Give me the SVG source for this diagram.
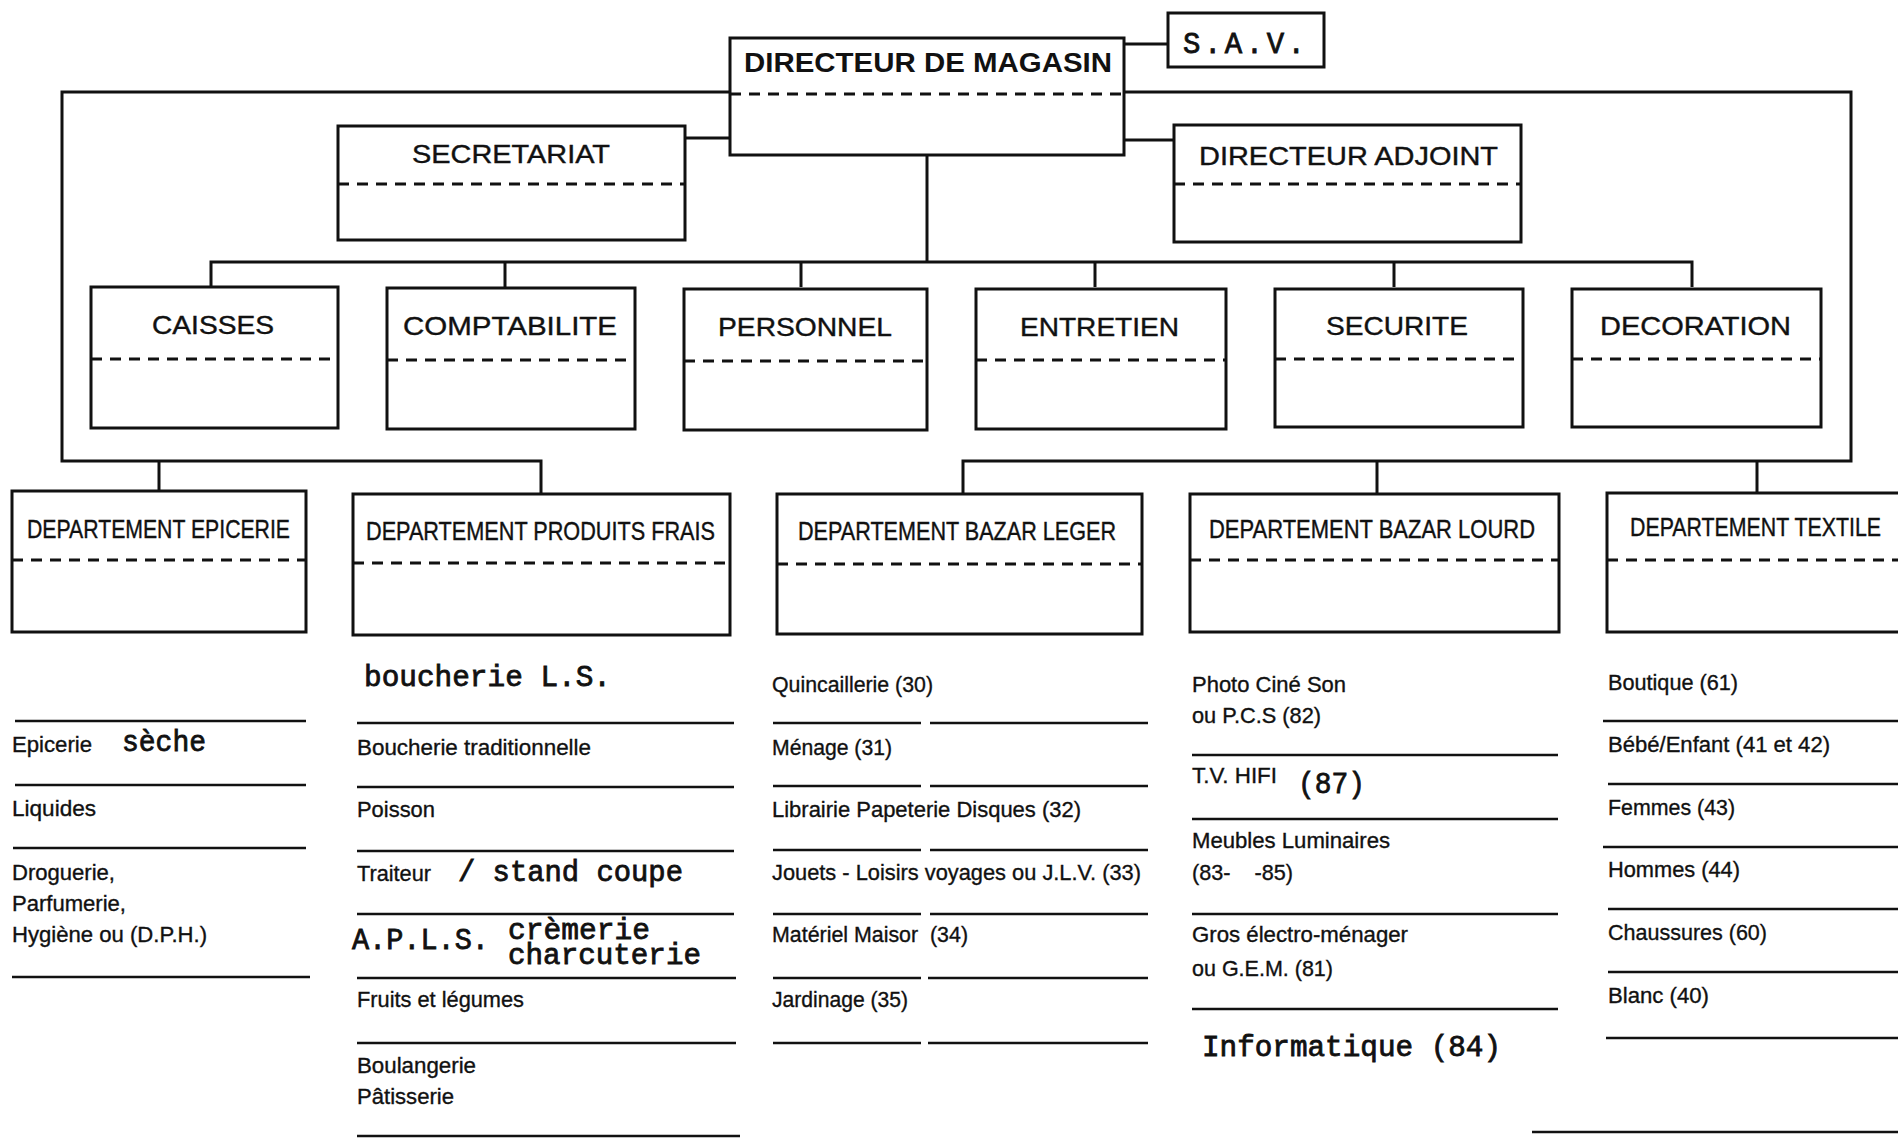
<svg xmlns="http://www.w3.org/2000/svg" width="1898" height="1138" viewBox="0 0 1898 1138">
<style>
.box{fill:#fff;stroke:#111;stroke-width:3}
.dash{stroke:#111;stroke-width:3.2;stroke-dasharray:11 8;fill:none}
.con{stroke:#111;stroke-width:3;fill:none}
.sep{stroke:#111;stroke-width:2.6;fill:none}
.t{font-family:"Liberation Sans",Arial,sans-serif;font-size:26px;fill:#111;stroke:#111;stroke-width:0.4}
.tb{font-family:"Liberation Sans",Arial,sans-serif;font-size:27px;font-weight:bold;fill:#111}
.d{font-family:"Liberation Sans",Arial,sans-serif;font-size:26px;fill:#111;stroke:#111;stroke-width:0.4}
.i{font-family:"Liberation Sans",Arial,sans-serif;font-size:22px;fill:#111;stroke:#111;stroke-width:0.35}
.m{font-family:"Liberation Mono","Courier New",monospace;font-size:29px;fill:#111;stroke:#111;stroke-width:0.8}
</style>
<rect width="1898" height="1138" fill="#fff"/>
<g id="connectors">
<polyline class="con" points="730,92 62,92 62,461 541,461 541,494"/>
<line class="con" x1="159" y1="461" x2="159" y2="491"/>
<polyline class="con" points="1124,92 1851,92 1851,461 963,461 963,494"/>
<line class="con" x1="1377" y1="461" x2="1377" y2="494"/>
<line class="con" x1="1757" y1="461" x2="1757" y2="493"/>
<line class="con" x1="1124" y1="44" x2="1168" y2="44"/>
<line class="con" x1="685" y1="138" x2="730" y2="138"/>
<line class="con" x1="1124" y1="140" x2="1174" y2="140"/>
<line class="con" x1="927" y1="155" x2="927" y2="262"/>
<polyline class="con" points="211,287 211,262 1692,262 1692,287"/>
<line class="con" x1="505" y1="262" x2="505" y2="287"/>
<line class="con" x1="801" y1="262" x2="801" y2="287"/>
<line class="con" x1="1095" y1="262" x2="1095" y2="287"/>
<line class="con" x1="1394" y1="262" x2="1394" y2="287"/>
</g>
<g id="directeur">
<rect class="box" x="730" y="38" width="394" height="117"/>
<line class="dash" x1="730" y1="94" x2="1124" y2="94"/>
<text class="tb" x="744" y="72" textLength="368" lengthAdjust="spacingAndGlyphs">DIRECTEUR DE MAGASIN</text>
</g>
<g id="sav">
<rect class="box" x="1168" y="13" width="156" height="54"/>
<text class="m" x="1183" y="53" font-size="33" textLength="122" lengthAdjust="spacing">S.A.V.</text>
</g>
<g id="secretariat">
<rect class="box" x="338" y="126" width="347" height="114"/>
<line class="dash" x1="338" y1="184" x2="685" y2="184"/>
<text class="t" x="412" y="163" textLength="198" lengthAdjust="spacingAndGlyphs">SECRETARIAT</text>
</g>
<g id="adjoint">
<rect class="box" x="1174" y="125" width="347" height="117"/>
<line class="dash" x1="1174" y1="184" x2="1521" y2="184"/>
<text class="t" x="1199" y="165" textLength="299" lengthAdjust="spacingAndGlyphs">DIRECTEUR ADJOINT</text>
</g>
<g id="caisses">
<rect class="box" x="91" y="287" width="247" height="141"/>
<line class="dash" x1="91" y1="359" x2="338" y2="359"/>
<text class="t" x="152" y="334" textLength="122" lengthAdjust="spacingAndGlyphs">CAISSES</text>
</g>
<g id="comptabilite">
<rect class="box" x="387" y="288" width="248" height="141"/>
<line class="dash" x1="387" y1="360" x2="635" y2="360"/>
<text class="t" x="403" y="335" textLength="214" lengthAdjust="spacingAndGlyphs">COMPTABILITE</text>
</g>
<g id="personnel">
<rect class="box" x="684" y="289" width="243" height="141"/>
<line class="dash" x1="684" y1="361" x2="927" y2="361"/>
<text class="t" x="718" y="336" textLength="174" lengthAdjust="spacingAndGlyphs">PERSONNEL</text>
</g>
<g id="entretien">
<rect class="box" x="976" y="289" width="250" height="140"/>
<line class="dash" x1="976" y1="360" x2="1226" y2="360"/>
<text class="t" x="1020" y="336" textLength="159" lengthAdjust="spacingAndGlyphs">ENTRETIEN</text>
</g>
<g id="securite">
<rect class="box" x="1275" y="289" width="248" height="138"/>
<line class="dash" x1="1275" y1="359" x2="1523" y2="359"/>
<text class="t" x="1326" y="335" textLength="142" lengthAdjust="spacingAndGlyphs">SECURITE</text>
</g>
<g id="decoration">
<rect class="box" x="1572" y="289" width="249" height="138"/>
<line class="dash" x1="1572" y1="359" x2="1821" y2="359"/>
<text class="t" x="1600" y="335" textLength="191" lengthAdjust="spacingAndGlyphs">DECORATION</text>
</g>
<g id="dep-epicerie">
<rect class="box" x="12" y="491" width="294" height="141"/>
<line class="dash" x1="12" y1="560" x2="306" y2="560"/>
<text class="d" x="27" y="538" textLength="263" lengthAdjust="spacingAndGlyphs">DEPARTEMENT EPICERIE</text>
<line class="sep" x1="15" y1="721" x2="306" y2="721"/>
<text class="i" x="12" y="752" textLength="80" lengthAdjust="spacingAndGlyphs">Epicerie</text>
<text class="m" x="122" y="751" font-size="28" textLength="84" lengthAdjust="spacingAndGlyphs">sèche</text>
<line class="sep" x1="15" y1="785" x2="306" y2="785"/>
<text class="i" x="12" y="816" textLength="84" lengthAdjust="spacingAndGlyphs">Liquides</text>
<line class="sep" x1="13" y1="848" x2="306" y2="848"/>
<text class="i" x="12" y="880" textLength="103" lengthAdjust="spacingAndGlyphs">Droguerie,</text>
<text class="i" x="12" y="911" textLength="114" lengthAdjust="spacingAndGlyphs">Parfumerie,</text>
<text class="i" x="12" y="942" textLength="195" lengthAdjust="spacingAndGlyphs">Hygiène ou (D.P.H.)</text>
<line class="sep" x1="12" y1="977" x2="310" y2="977"/>
</g>
<g id="dep-produits-frais">
<rect class="box" x="353" y="494" width="377" height="141"/>
<line class="dash" x1="353" y1="563" x2="730" y2="563"/>
<text class="d" x="366" y="540" textLength="349" lengthAdjust="spacingAndGlyphs">DEPARTEMENT PRODUITS FRAIS</text>
<text class="m" x="364" y="686" textLength="247" lengthAdjust="spacingAndGlyphs">boucherie L.S.</text>
<line class="sep" x1="357" y1="723" x2="734" y2="723"/>
<text class="i" x="357" y="755" textLength="234" lengthAdjust="spacingAndGlyphs">Boucherie traditionnelle</text>
<line class="sep" x1="357" y1="787" x2="734" y2="787"/>
<text class="i" x="357" y="817" textLength="78" lengthAdjust="spacingAndGlyphs">Poisson</text>
<line class="sep" x1="357" y1="851" x2="734" y2="851"/>
<text class="i" x="357" y="881" textLength="74" lengthAdjust="spacingAndGlyphs">Traiteur</text>
<text class="m" x="458" y="881" textLength="225" lengthAdjust="spacingAndGlyphs">/ stand coupe</text>
<line class="sep" x1="357" y1="914" x2="734" y2="914"/>
<text class="m" x="352" y="949" font-size="28" textLength="137" lengthAdjust="spacingAndGlyphs">A.P.L.S.</text>
<text class="m" x="508" y="939" font-size="24" textLength="142" lengthAdjust="spacingAndGlyphs">crèmerie</text>
<text class="m" x="508" y="964" font-size="24" textLength="193" lengthAdjust="spacingAndGlyphs">charcuterie</text>
<line class="sep" x1="357" y1="978" x2="736" y2="978"/>
<text class="i" x="357" y="1007" textLength="167" lengthAdjust="spacingAndGlyphs">Fruits et légumes</text>
<line class="sep" x1="357" y1="1043" x2="736" y2="1043"/>
<text class="i" x="357" y="1073" textLength="119" lengthAdjust="spacingAndGlyphs">Boulangerie</text>
<text class="i" x="357" y="1104" textLength="97" lengthAdjust="spacingAndGlyphs">Pâtisserie</text>
<line class="sep" x1="357" y1="1136" x2="740" y2="1136"/>
</g>
<g id="dep-bazar-leger">
<rect class="box" x="777" y="494" width="365" height="140"/>
<line class="dash" x1="777" y1="564" x2="1142" y2="564"/>
<text class="d" x="798" y="540" textLength="318" lengthAdjust="spacingAndGlyphs">DEPARTEMENT BAZAR LEGER</text>
<text class="i" x="772" y="692" textLength="161" lengthAdjust="spacingAndGlyphs">Quincaillerie (30)</text>
<line class="sep" x1="773" y1="723" x2="921" y2="723"/>
<line class="sep" x1="930" y1="723" x2="1148" y2="723"/>
<text class="i" x="772" y="755" textLength="120" lengthAdjust="spacingAndGlyphs">Ménage (31)</text>
<line class="sep" x1="773" y1="786" x2="921" y2="786"/>
<line class="sep" x1="930" y1="786" x2="1148" y2="786"/>
<text class="i" x="772" y="817" textLength="309" lengthAdjust="spacingAndGlyphs">Librairie Papeterie Disques (32)</text>
<line class="sep" x1="773" y1="850" x2="921" y2="850"/>
<line class="sep" x1="930" y1="850" x2="1148" y2="850"/>
<text class="i" x="772" y="880" textLength="369" lengthAdjust="spacingAndGlyphs">Jouets - Loisirs voyages ou J.L.V. (33)</text>
<line class="sep" x1="773" y1="914" x2="921" y2="914"/>
<line class="sep" x1="930" y1="914" x2="1148" y2="914"/>
<text class="i" x="772" y="942" textLength="196" lengthAdjust="spacingAndGlyphs" style="white-space:pre">Matériel Maisor  (34)</text>
<line class="sep" x1="773" y1="978" x2="921" y2="978"/>
<line class="sep" x1="928" y1="978" x2="1148" y2="978"/>
<text class="i" x="772" y="1007" textLength="136" lengthAdjust="spacingAndGlyphs">Jardinage (35)</text>
<line class="sep" x1="773" y1="1043" x2="921" y2="1043"/>
<line class="sep" x1="928" y1="1043" x2="1148" y2="1043"/>
</g>
<g id="dep-bazar-lourd">
<rect class="box" x="1190" y="494" width="369" height="138"/>
<line class="dash" x1="1190" y1="560" x2="1559" y2="560"/>
<text class="d" x="1209" y="538" textLength="326" lengthAdjust="spacingAndGlyphs">DEPARTEMENT BAZAR LOURD</text>
<text class="i" x="1192" y="692" textLength="154" lengthAdjust="spacingAndGlyphs">Photo Ciné Son</text>
<text class="i" x="1192" y="723" textLength="129" lengthAdjust="spacingAndGlyphs">ou P.C.S (82)</text>
<line class="sep" x1="1192" y1="755" x2="1558" y2="755"/>
<text class="i" x="1192" y="783" textLength="85" lengthAdjust="spacingAndGlyphs">T.V. HIFI</text>
<text class="m" x="1298" y="793" font-size="30" textLength="67" lengthAdjust="spacingAndGlyphs">(87)</text>
<line class="sep" x1="1192" y1="819" x2="1558" y2="819"/>
<text class="i" x="1192" y="848" textLength="198" lengthAdjust="spacingAndGlyphs">Meubles Luminaires</text>
<text class="i" x="1192" y="880" textLength="101" lengthAdjust="spacingAndGlyphs" style="white-space:pre">(83-    -85)</text>
<line class="sep" x1="1192" y1="914" x2="1558" y2="914"/>
<text class="i" x="1192" y="942" textLength="216" lengthAdjust="spacingAndGlyphs">Gros électro-ménager</text>
<text class="i" x="1192" y="976" textLength="141" lengthAdjust="spacingAndGlyphs">ou G.E.M. (81)</text>
<line class="sep" x1="1192" y1="1009" x2="1558" y2="1009"/>
<text class="m" x="1202" y="1056" textLength="299" lengthAdjust="spacingAndGlyphs">Informatique (84)</text>
</g>
<g id="dep-textile">
<rect class="box" x="1607" y="493" width="300" height="139"/>
<line class="dash" x1="1607" y1="560" x2="1898" y2="560"/>
<text class="d" x="1630" y="536" textLength="251" lengthAdjust="spacingAndGlyphs">DEPARTEMENT TEXTILE</text>
<text class="i" x="1608" y="690" textLength="130" lengthAdjust="spacingAndGlyphs">Boutique (61)</text>
<line class="sep" x1="1603" y1="721" x2="1898" y2="721"/>
<text class="i" x="1608" y="752" textLength="222" lengthAdjust="spacingAndGlyphs">Bébé/Enfant (41 et 42)</text>
<line class="sep" x1="1608" y1="784" x2="1898" y2="784"/>
<text class="i" x="1608" y="815" textLength="127" lengthAdjust="spacingAndGlyphs">Femmes (43)</text>
<line class="sep" x1="1603" y1="847" x2="1898" y2="847"/>
<text class="i" x="1608" y="877" textLength="132" lengthAdjust="spacingAndGlyphs">Hommes (44)</text>
<line class="sep" x1="1608" y1="909" x2="1898" y2="909"/>
<text class="i" x="1608" y="940" textLength="159" lengthAdjust="spacingAndGlyphs">Chaussures (60)</text>
<line class="sep" x1="1608" y1="972" x2="1898" y2="972"/>
<text class="i" x="1608" y="1003" textLength="101" lengthAdjust="spacingAndGlyphs">Blanc (40)</text>
<line class="sep" x1="1606" y1="1038" x2="1898" y2="1038"/>
<line class="sep" x1="1532" y1="1132" x2="1898" y2="1132"/>
</g>
</svg>
